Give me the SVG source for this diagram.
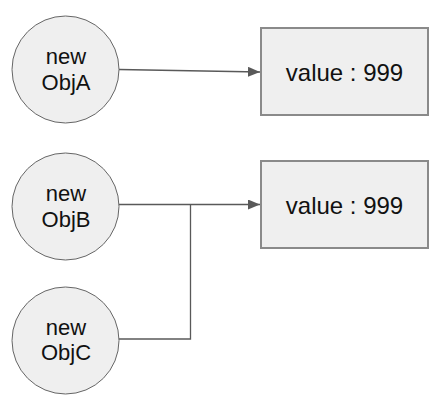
<svg xmlns="http://www.w3.org/2000/svg" width="442" height="403" viewBox="0 0 442 403">
<style>
.circ{fill:#efefef;stroke:#666;stroke-width:1}
.box{fill:#efefef;stroke:#8a8a8a;stroke-width:2}
.lbl{font-family:"Liberation Sans",Arial,sans-serif;font-size:22px;fill:#111;text-anchor:middle}
.val{font-family:"Liberation Sans",Arial,sans-serif;font-size:24px;fill:#111;text-anchor:middle}
.con{fill:none;stroke:#595959;stroke-width:1.3}
</style>
<defs>
<marker id="arr" viewBox="0 0 12 10" refX="12" refY="5" markerWidth="12" markerHeight="10" markerUnits="userSpaceOnUse" orient="auto">
<path d="M0,0 L12,5 L0,10 Z" fill="#595959"/>
</marker>
</defs>
<rect width="442" height="403" fill="#fff"/>
<g id="connectors">
<path class="con" d="M119,69.5 L260,72" marker-end="url(#arr)"/>
<path class="con" d="M119,204.5 L260,204.5" marker-end="url(#arr)"/>
<path class="con" d="M119,339 L190.5,339 L190.5,204.5"/>
</g>
<g id="objA">
<circle class="circ" cx="65.5" cy="69.5" r="53.5"/>
<text class="lbl" x="66" y="64">new</text>
<text class="lbl" x="66" y="90">ObjA</text>
</g>
<g id="objB">
<circle class="circ" cx="65.5" cy="206.5" r="53.5"/>
<text class="lbl" x="66" y="201">new</text>
<text class="lbl" x="66" y="227">ObjB</text>
</g>
<g id="objC">
<circle class="circ" cx="65.5" cy="340.5" r="53.5"/>
<text class="lbl" x="66" y="335">new</text>
<text class="lbl" x="66" y="360">ObjC</text>
</g>
<g id="valueA">
<rect class="box" x="261" y="28" width="167" height="87"/>
<text class="val" x="344.5" y="80.5">value : 999</text>
</g>
<g id="valueB">
<rect class="box" x="261" y="161" width="167" height="87"/>
<text class="val" x="344.5" y="213.5">value : 999</text>
</g>
</svg>
